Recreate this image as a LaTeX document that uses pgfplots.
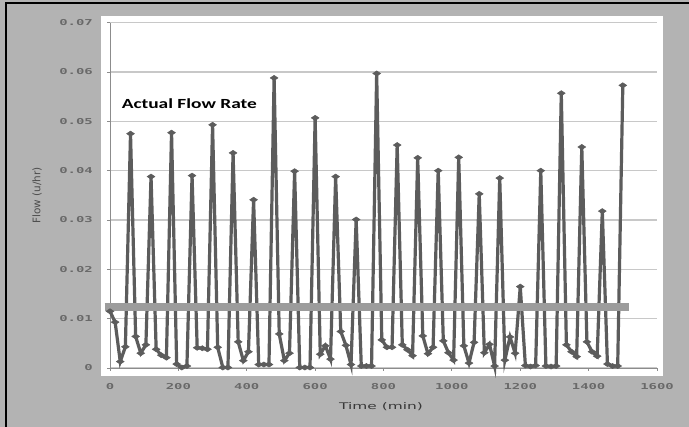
\documentclass[border=0pt]{standalone}
\usepackage{pgfplots}
\pgfplotsset{compat=1.18}
\usepackage{fontspec}
\setmainfont{Carlito}
\newfontfamily\tickfont{DejaVu Sans Mono}[FakeStretch=1.7]
\newfontfamily\labfont{DejaVu Sans}[FakeStretch=1.68]
\newfontfamily\ylabfont{DejaVu Sans}
\newfontfamily\titfont{Carlito}[FakeStretch=1.39]
\definecolor{bg}{RGB}{179,179,179}
\definecolor{datac}{RGB}{92,92,92}
\definecolor{barc}{RGB}{156,156,156}
\definecolor{gridc}{RGB}{200,200,200}
\definecolor{tickc}{RGB}{105,105,105}
\begin{document}
\begin{tikzpicture}
\path[use as bounding box] (0bp,0bp) rectangle (689bp,427bp);
\fill[bg] (0bp,0bp) rectangle (689bp,427bp);
\draw[black, line width=1.5bp] (6bp,0bp) -- (6bp,424bp) -- (689bp,424bp);
\fill[white] (101bp,51bp) rectangle (663bp,411bp);
\begin{axis}[
  scale only axis,
  width=547bp, height=345.3bp,
  at={(110bp,59bp)}, anchor=south west,
  xmin=0, xmax=1600, ymin=0, ymax=0.07,
  clip=false,
  scaled y ticks=false, scaled x ticks=false,
  axis x line*=bottom, axis y line*=left,
  axis line style={draw=black!45, line width=1bp, -},
  xtick={0,200,400,600,800,1000,1200,1400,1600},
  xticklabels={0,200,400,600,800,1000,1200,1400,1600},
  ytick={0,0.01,0.02,0.03,0.04,0.05,0.06,0.07},
  yticklabels={0,0.01,0.02,0.03,0.04,0.05,0.06,0.07},
  ymajorgrids,
  grid style={draw=gridc, line width=1.3bp},
  tick align=outside,
  major tick length=3bp,
  tick style={draw=black!45, line width=0.8bp},
  /pgf/number format/assume math mode=true,
  tick label style={font={\fontsize{8.2}{9}\tickfont\bfseries}, text=tickc, inner sep=0pt},
  xticklabel style={anchor=north, yshift=-12bp},
  yticklabel style={anchor=east, xshift=-14bp},
  xlabel={Time (min)},
  ylabel={Flow (u/hr)},
  every axis x label/.style={at={(axis description cs:0.4954,-0.113)}, anchor=center, font={\fontsize{9.2}{11}\labfont}, text=black!78},
  every axis y label/.style={at={(axis description cs:-0.1335,0.5)}, rotate=90, anchor=center, font={\fontsize{10.5}{12}\ylabfont}, text=black!70},
]
\addplot[datac, line width=3.2bp, mark=diamond*, mark size=2.6bp,
  mark options={xscale=2.0, solid, fill=datac, draw=datac, line width=0.5bp}]
coordinates {
(0,0.0115) (15,0.0093) (30,0.0013) (45,0.0043) (60,0.0475)
(75,0.0064) (90,0.0030) (105,0.0047) (120,0.0388)
(135,0.0038) (150,0.0026) (165,0.0021) (180,0.0477)
(195,0.0008) (210,0.0001) (225,0.0004) (240,0.0390)
(255,0.0041) (270,0.0040) (285,0.0038) (300,0.0493)
(315,0.0042) (330,0.0001) (345,0.0001) (360,0.0436)
(375,0.0053) (390,0.0015) (405,0.0033) (420,0.0341)
(435,0.0007) (450,0.0007) (465,0.0007) (480,0.0588)
(495,0.0069) (510,0.0015) (525,0.0030) (540,0.0399)
(555,0.0001) (570,0.0001) (585,0.0001) (600,0.0507)
(615,0.0028) (630,0.0045) (645,0.0018) (660,0.0388)
(675,0.0074) (690,0.0046) (705,0.0007) (720,0.0301)
(735,0.0004) (750,0.0004) (765,0.0004) (780,0.0597)
(795,0.0057) (810,0.0042) (825,0.0042) (840,0.0452)
(855,0.0047) (870,0.0037) (885,0.0025) (900,0.0426)
(915,0.0065) (930,0.0029) (945,0.0042) (960,0.0400)
(975,0.0055) (990,0.0031) (1005,0.0016) (1020,0.0427)
(1035,0.0045) (1050,0.0010) (1065,0.0052) (1080,0.0353)
(1095,0.0031) (1110,0.0048) (1125,0.0004) (1140,0.0385)
(1155,0.0016) (1170,0.0063) (1185,0.0030) (1200,0.0165)
(1215,0.0005) (1230,0.0003) (1245,0.0005) (1260,0.0400)
(1275,0.0004) (1290,0.0003) (1305,0.0004) (1320,0.0557)
(1335,0.0047) (1350,0.0033) (1365,0.0023) (1380,0.0448)
(1395,0.0053) (1410,0.0033) (1425,0.0024) (1440,0.0318)
(1455,0.0008) (1470,0.0004) (1485,0.0004) (1500,0.0573)
};
\addplot[barc, line width=8bp] coordinates {(-15.5,0.01243) (1517.5,0.01243)};
\node[font={\fontsize{14}{16}\titfont\bfseries}, text=black] at (axis cs:232,0.0535) {Actual Flow Rate};
\end{axis}
\end{tikzpicture}
\end{document}
